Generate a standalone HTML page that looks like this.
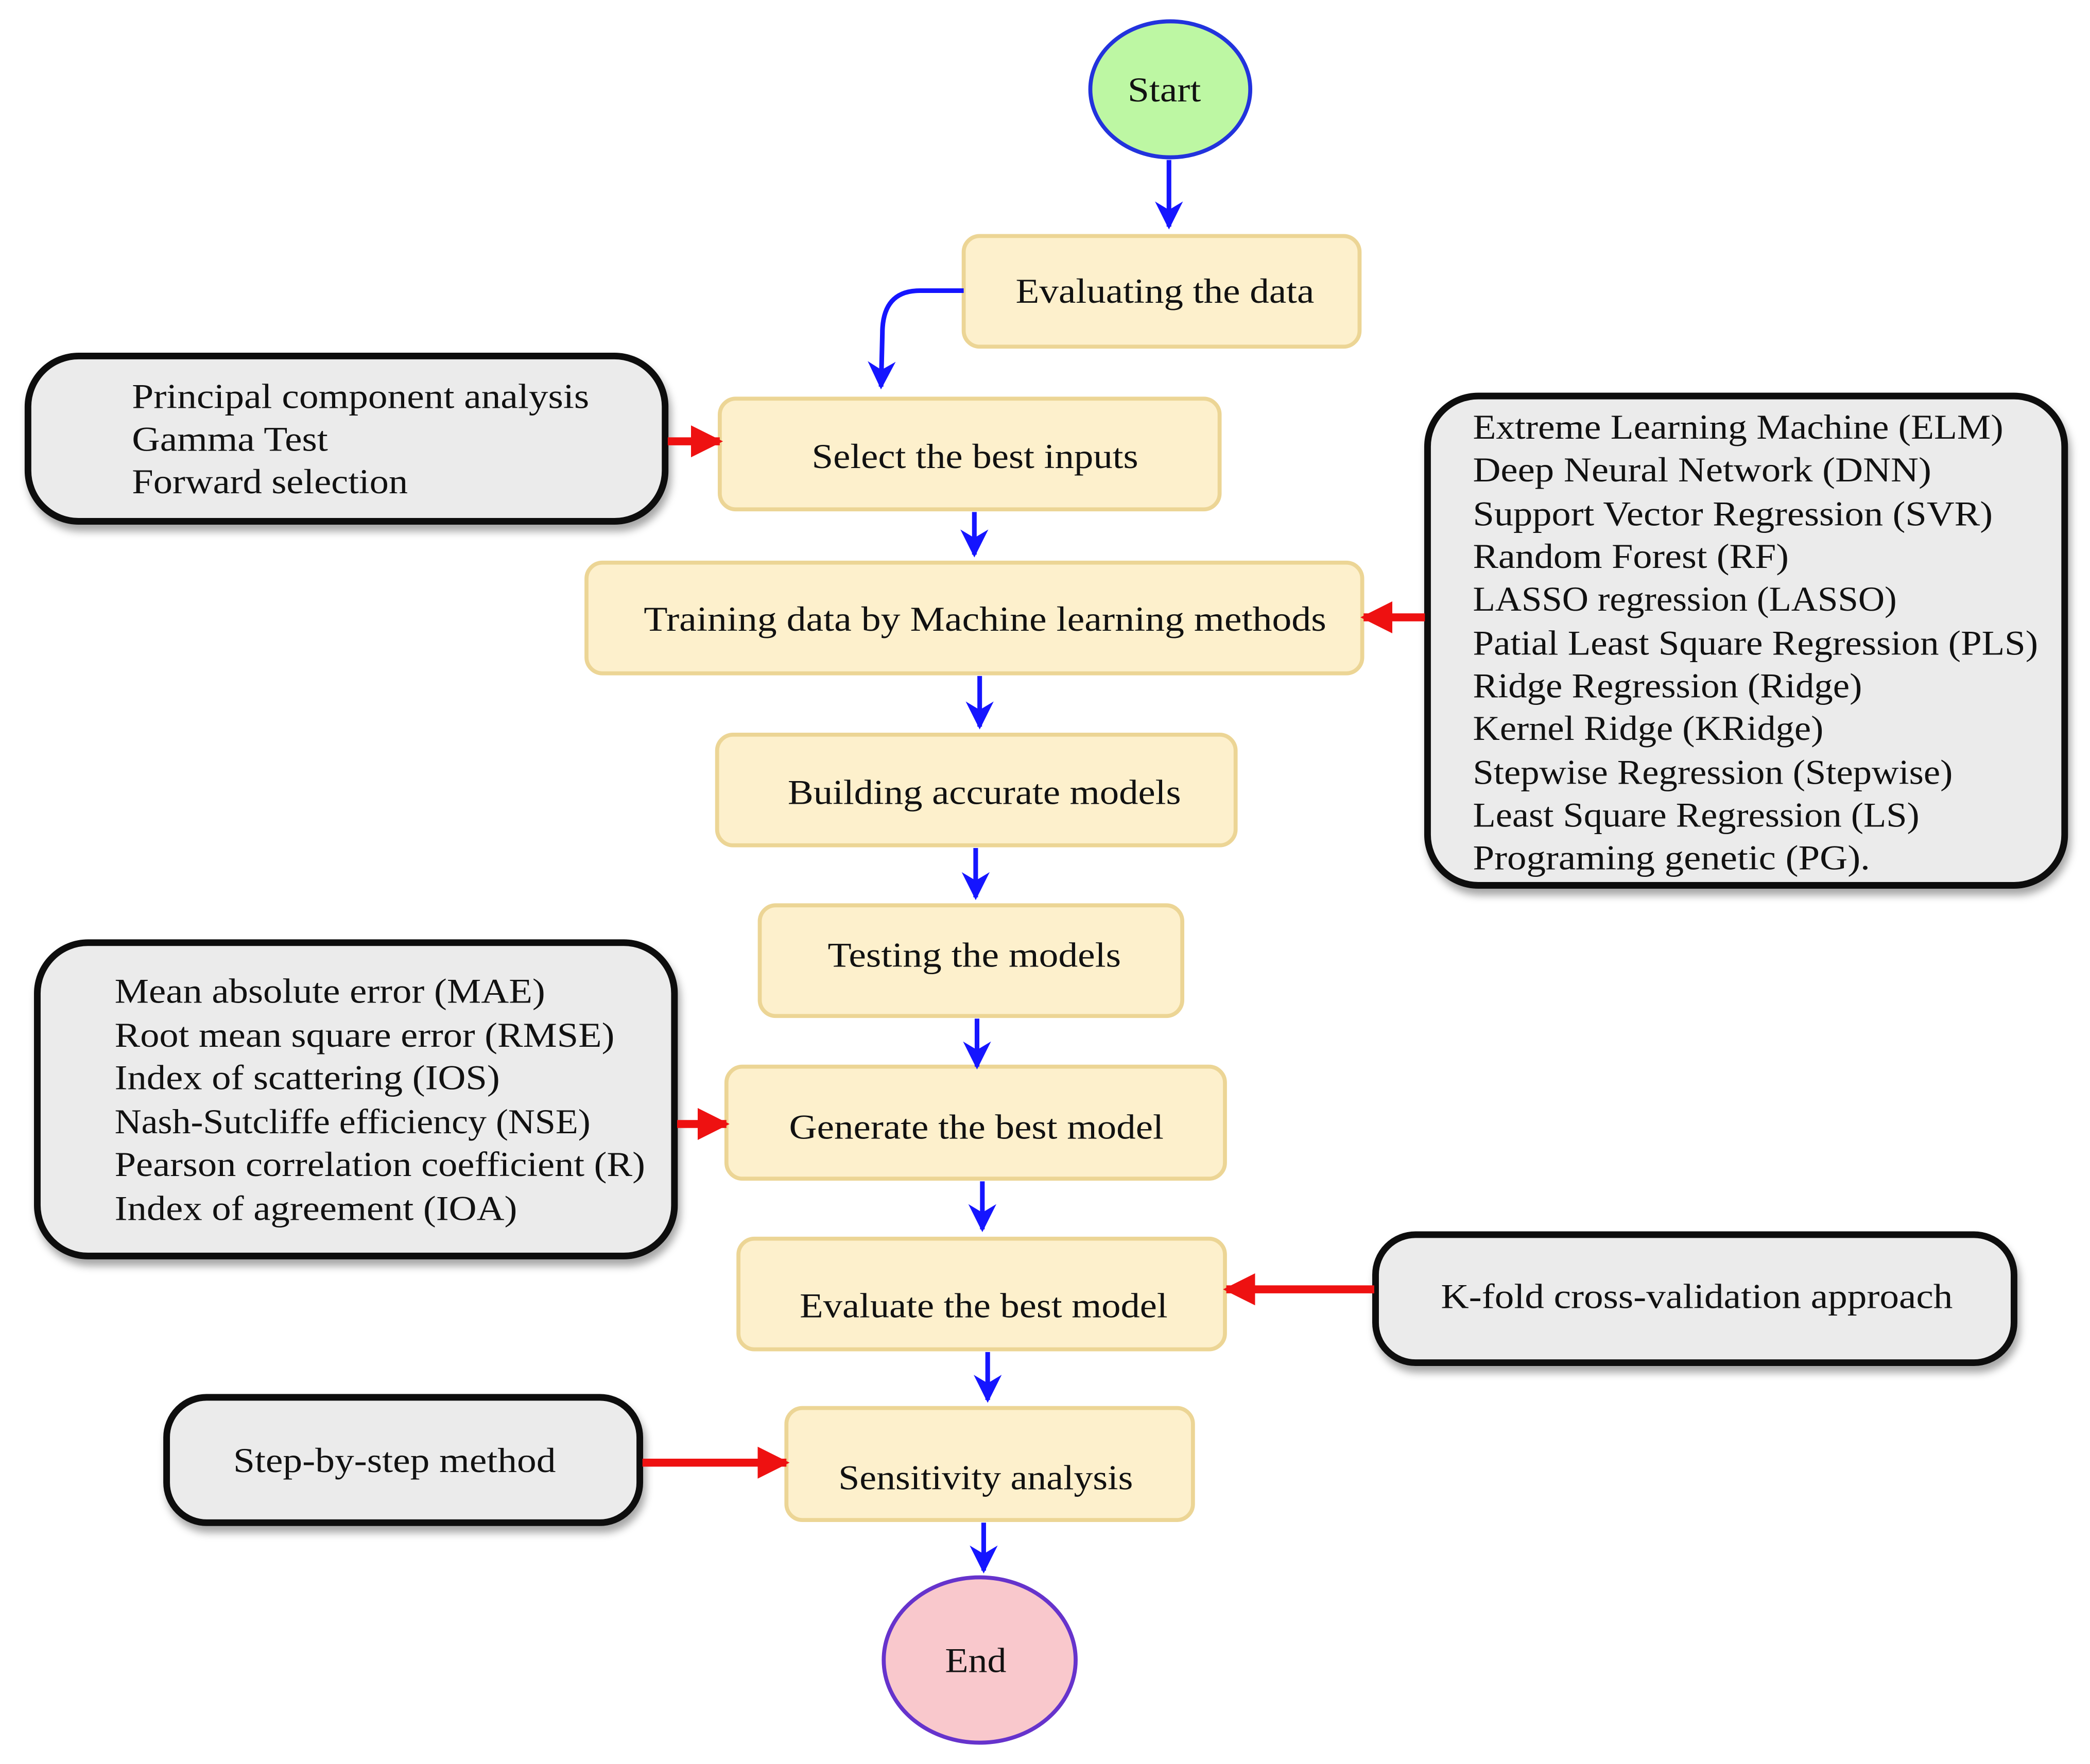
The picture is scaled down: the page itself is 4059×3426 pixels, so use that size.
<!DOCTYPE html>
<html><head><meta charset="utf-8"><style>
html,body{margin:0;padding:0;background:#fff;}
svg{display:block;}
text{font-family:"Liberation Serif",serif;font-size:26px;fill:#111;}
</style></head><body>
<svg width="4059" height="3426" viewBox="0 0 1568 1323" preserveAspectRatio="none" xmlns="http://www.w3.org/2000/svg">
<defs>
<marker id="b" viewBox="0 0 10 10" refX="9" refY="5" markerWidth="6" markerHeight="7" markerUnits="strokeWidth" orient="auto"><path d="M0,0 L10,5 L0,10 L3,5 z" fill="#1515ff"/></marker>
<marker id="r" viewBox="0 0 10 10" refX="9" refY="5" markerWidth="4" markerHeight="4" markerUnits="strokeWidth" orient="auto"><path d="M0,0 L10,5 L0,10 z" fill="#ee1111"/></marker>
<filter id="sh" x="-5%" y="-5%" width="110%" height="120%"><feDropShadow dx="2" dy="5" stdDeviation="3" flood-color="#000" flood-opacity="0.35"/></filter>
</defs>
<g fill="#fdf0cc" stroke="#ecd595" stroke-width="3">
<rect x="723" y="177" width="297" height="83" rx="12"/>
<rect x="540" y="299" width="375" height="83" rx="12"/>
<rect x="440" y="422" width="582" height="83" rx="12"/>
<rect x="538" y="551" width="389" height="83" rx="12"/>
<rect x="570" y="679" width="317" height="83" rx="12"/>
<rect x="545" y="800" width="374" height="84" rx="12"/>
<rect x="554" y="929" width="365" height="83" rx="12"/>
<rect x="590" y="1056" width="305" height="84" rx="12"/>
</g>
<g fill="#ebebeb" stroke="#111" stroke-width="5" filter="url(#sh)">
<rect x="21" y="267" width="478" height="124" rx="38"/>
<rect x="1071" y="297" width="478" height="367" rx="38"/>
<rect x="28" y="707" width="478" height="235" rx="38"/>
<rect x="1032" y="926" width="479" height="96" rx="30"/>
<rect x="125" y="1048" width="355" height="94" rx="30"/>
</g>
<ellipse cx="878" cy="67" rx="60" ry="51" fill="#bdf7a3" stroke="#2233dd" stroke-width="3"/>
<ellipse cx="735" cy="1245" rx="72" ry="62" fill="#f9c8cc" stroke="#6633cc" stroke-width="3"/>
<g stroke="#1515ff" stroke-width="3.5" fill="none" marker-end="url(#b)">
<path d="M877,120 L877,170"/>
<path d="M723,218 L690,218 Q662,218 662,250 L661,290"/>
<path d="M731,384 L731,416"/>
<path d="M735,507 L735,545"/>
<path d="M732,636 L732,673"/>
<path d="M733,764 L733,800"/>
<path d="M737,886 L737,922"/>
<path d="M741,1014 L741,1050"/>
<path d="M738,1142 L738,1178"/>
</g>
<g stroke="#ee1111" stroke-width="6" fill="none" marker-end="url(#r)">
<path d="M501,331 L540,331"/>
<path d="M1069,463 L1023,463"/>
<path d="M508,843 L545,843"/>
<path d="M1031,967 L920,967"/>
<path d="M482,1097 L590,1097"/>
</g>
<g lengthAdjust="spacingAndGlyphs">
<text x="846" y="76" textLength="55" lengthAdjust="spacingAndGlyphs">Start</text>
<text x="709" y="1254" textLength="46" lengthAdjust="spacingAndGlyphs">End</text>
<text x="762" y="227" textLength="224" lengthAdjust="spacingAndGlyphs">Evaluating the data</text>
<text x="609" y="351" textLength="245" lengthAdjust="spacingAndGlyphs">Select the best inputs</text>
<text x="483" y="473" textLength="512" lengthAdjust="spacingAndGlyphs">Training data by Machine learning methods</text>
<text x="591" y="603" textLength="295" lengthAdjust="spacingAndGlyphs">Building accurate models</text>
<text x="621" y="725" textLength="220" lengthAdjust="spacingAndGlyphs">Testing the models</text>
<text x="592" y="854" textLength="281" lengthAdjust="spacingAndGlyphs">Generate the best model</text>
<text x="600" y="988" textLength="276" lengthAdjust="spacingAndGlyphs">Evaluate the best model</text>
<text x="629" y="1117" textLength="221" lengthAdjust="spacingAndGlyphs">Sensitivity analysis</text>
<text x="175" y="1104" textLength="242" lengthAdjust="spacingAndGlyphs">Step-by-step method</text>
<text x="1081" y="981" textLength="384" lengthAdjust="spacingAndGlyphs">K-fold cross-validation approach</text>
<text x="99" y="306" textLength="343" lengthAdjust="spacingAndGlyphs">Principal component analysis</text>
<text x="99" y="338" textLength="147" lengthAdjust="spacingAndGlyphs">Gamma Test</text>
<text x="99" y="370" textLength="207" lengthAdjust="spacingAndGlyphs">Forward selection</text>
<text x="1105" y="329" textLength="398" lengthAdjust="spacingAndGlyphs">Extreme Learning Machine (ELM)</text>
<text x="1105" y="361" textLength="344" lengthAdjust="spacingAndGlyphs">Deep Neural Network (DNN)</text>
<text x="1105" y="394" textLength="390" lengthAdjust="spacingAndGlyphs">Support Vector Regression (SVR)</text>
<text x="1105" y="426" textLength="237" lengthAdjust="spacingAndGlyphs">Random Forest (RF)</text>
<text x="1105" y="458" textLength="318" lengthAdjust="spacingAndGlyphs">LASSO regression (LASSO)</text>
<text x="1105" y="491" textLength="424" lengthAdjust="spacingAndGlyphs">Patial Least Square Regression (PLS)</text>
<text x="1105" y="523" textLength="292" lengthAdjust="spacingAndGlyphs">Ridge Regression (Ridge)</text>
<text x="1105" y="555" textLength="263" lengthAdjust="spacingAndGlyphs">Kernel Ridge (KRidge)</text>
<text x="1105" y="588" textLength="360" lengthAdjust="spacingAndGlyphs">Stepwise Regression (Stepwise)</text>
<text x="1105" y="620" textLength="335" lengthAdjust="spacingAndGlyphs">Least Square Regression (LS)</text>
<text x="1105" y="652" textLength="298" lengthAdjust="spacingAndGlyphs">Programing genetic (PG).</text>
<text x="86" y="752" textLength="323" lengthAdjust="spacingAndGlyphs">Mean absolute error (MAE)</text>
<text x="86" y="785" textLength="375" lengthAdjust="spacingAndGlyphs">Root mean square error (RMSE)</text>
<text x="86" y="817" textLength="289" lengthAdjust="spacingAndGlyphs">Index of scattering (IOS)</text>
<text x="86" y="850" textLength="357" lengthAdjust="spacingAndGlyphs">Nash-Sutcliffe efficiency (NSE)</text>
<text x="86" y="882" textLength="398" lengthAdjust="spacingAndGlyphs">Pearson correlation coefficient (R)</text>
<text x="86" y="915" textLength="302" lengthAdjust="spacingAndGlyphs">Index of agreement (IOA)</text>
</g>
</svg>
</body></html>
